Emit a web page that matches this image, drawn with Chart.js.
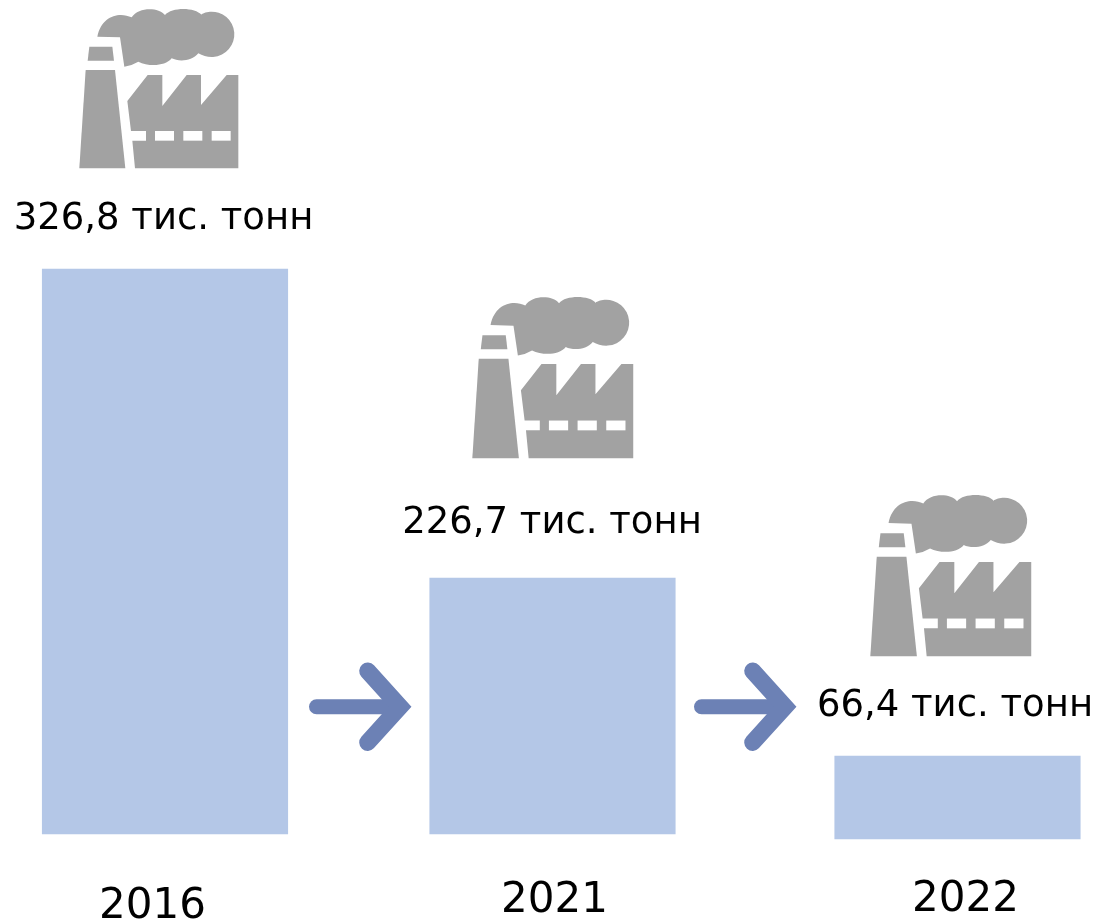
<!DOCTYPE html>
<html>
<head>
<meta charset="utf-8">
<title>Chart</title>
<script src="https://cdn.jsdelivr.net/npm/chart.js@4"></script>
<style>
    html, body { margin: 0; padding: 0; background: #fff; overflow: hidden; }
    canvas { display: block; }
</style>
</head>
<body>
<canvas id="statistical" width="1096" height="923"></canvas>
<script>
// Roky i pidpysy nad stovpchykamy
const years = ['2016', '2021', '2022'];
const valueLabels = ['326,8 тис. тонн', '226,7 тис. тонн', '66,4 тис. тонн'];

// Bars in the picture are not proportional to the printed values, so these are
// the drawn extents (1 unit = 1 px above the 2016 baseline)
const barTops = [565, 256, 78];
const barBottoms = [0, 0, -5];

// Placement of what sits around each bar, in page pixels
const barNudge = [0, -8.75, 0];
const yearX = [152.5, 554.5, 965.5];
const yearY = [907, 901, 900];
const labelX = [163.5, 552, 955];
const labelBaseline = [229, 533, 716];
const iconOffset = [[0, 0], [393, 290], [791, 488]];
const iconScale = [1, 1.012, 1.012];
const arrowOffset = [0, 385];

const barColor = '#B4C7E7';
const arrowColor = '#6C81B5';
const iconColor = '#A2A2A2';
const fontFamily = '"DejaVu Sans", Verdana, sans-serif';

// Factory icon, in 3x units of the first icon's box, anchored at its bottom left
function drawFactory(ctx, dx, dy, k) {
    ctx.save();
    ctx.translate(79.33 + dx, 168.33 + dy);
    ctx.scale(k / 3, k / 3);
    ctx.translate(-28, -505);
    ctx.fillStyle = iconColor;

    const poly = function (points) {
        ctx.beginPath();
        points.forEach(function (p, i) {
            if (i === 0) ctx.moveTo(p[0], p[1]);
            else ctx.lineTo(p[0], p[1]);
        });
        ctx.closePath();
    };

    // komyn
    poly([[58, 140], [127, 140], [132, 182], [53, 182]]);
    ctx.fill();
    poly([[47, 210], [135, 210], [166, 505], [28, 505]]);
    ctx.fill();

    // dym
    ctx.beginPath();
    ctx.moveTo(82, 110);
    ctx.bezierCurveTo(95, 45, 150, 35, 185, 52);
    ctx.bezierCurveTo(205, 21, 265, 21, 285, 45);
    ctx.bezierCurveTo(305, 21, 375, 21, 395, 45);
    ctx.arc(425, 103, 68, -Math.PI * 0.65, Math.PI * 0.48);
    ctx.quadraticCurveTo(405, 172, 385, 160);
    ctx.bezierCurveTo(365, 185, 325, 185, 305, 175);
    ctx.bezierCurveTo(285, 200, 235, 200, 205, 185);
    ctx.quadraticCurveTo(185, 197, 163, 200);
    ctx.lineTo(150, 112);
    ctx.closePath();
    ctx.fill();

    // tsekh
    poly([
        [172, 303], [233, 225], [277, 225], [277, 318], [350, 225], [393, 225],
        [393, 315], [470, 225], [505, 225], [505, 505], [195, 505], [187, 422],
        [228, 422], [228, 393], [183, 393]
    ]);
    ctx.fill();
    ctx.fillStyle = '#fff';
    [255, 340, 425].forEach(function (x) {
        ctx.fillRect(x, 393, 57, 29);
    });
    ctx.restore();
}

function drawArrow(ctx, dx) {
    ctx.save();
    ctx.translate(dx, 0);
    ctx.strokeStyle = arrowColor;
    ctx.lineCap = 'round';
    ctx.lineJoin = 'miter';
    ctx.lineWidth = 15;
    ctx.beginPath();
    ctx.moveTo(316.5, 706.7);
    ctx.lineTo(400, 706.7);
    ctx.stroke();
    ctx.lineWidth = 17;
    ctx.beginPath();
    ctx.moveTo(367.7, 671);
    ctx.lineTo(400, 706.7);
    ctx.lineTo(367.7, 742.4);
    ctx.stroke();
    ctx.restore();
}

const extras = {
    id: 'extras',
    afterDatasetsUpdate(chart) {
        const xScale = chart.scales.x;
        chart.getDatasetMeta(0).data.forEach(function (bar, i) {
            bar.x = xScale.getPixelForValue(i) + barNudge[i];
        });
    },
    beforeDraw(chart) {
        // tick labels stay on the axis, only their spot changes
        chart.scales.x.getLabelItems(chart.chartArea).forEach(function (item, i) {
            item.options.translation = [yearX[i], yearY[i]];
            item.options.textBaseline = 'middle';
            item.options.textAlign = 'center';
            item.textOffset = 0;
        });
    },
    afterDatasetsDraw(chart) {
        const ctx = chart.ctx;
        iconOffset.forEach(function (o, i) {
            drawFactory(ctx, o[0], o[1], iconScale[i]);
        });
        arrowOffset.forEach(function (dx) {
            drawArrow(ctx, dx);
        });
        ctx.save();
        ctx.fillStyle = '#000';
        ctx.font = '37px ' + fontFamily;
        ctx.textAlign = 'center';
        ctx.textBaseline = 'alphabetic';
        valueLabels.forEach(function (text, i) {
            ctx.fillText(text, labelX[i], labelBaseline[i]);
        });
        ctx.restore();
    }
};

new Chart(document.getElementById('statistical').getContext('2d'), {
    type: 'bar',
    data: {
        labels: years,
        datasets: [{
            label: 'Обсяг',
            data: barTops.map(function (top, i) { return [barBottoms[i], top]; }),
            backgroundColor: barColor,
            borderWidth: 0,
            barThickness: 245.5,
            clip: false
        }]
    },
    options: {
        responsive: false,
        animation: false,
        events: [],
        layout: { padding: { left: 165, right: 138.5, top: 0, bottom: 0 } },
        plugins: {
            legend: { display: false },
            title: { display: false },
            tooltip: { enabled: false }
        },
        scales: {
            x: {
                offset: false,
                grid: { display: false },
                border: { display: false },
                ticks: {
                    color: '#000',
                    font: { family: fontFamily, size: 42 },
                    maxRotation: 0,
                    autoSkip: false
                },
                afterFit: function (scale) { scale.height = 84; }
            },
            y: {
                display: false,
                min: -5,
                max: 834
            }
        }
    },
    plugins: [extras]
});
</script>
</body>
</html>
